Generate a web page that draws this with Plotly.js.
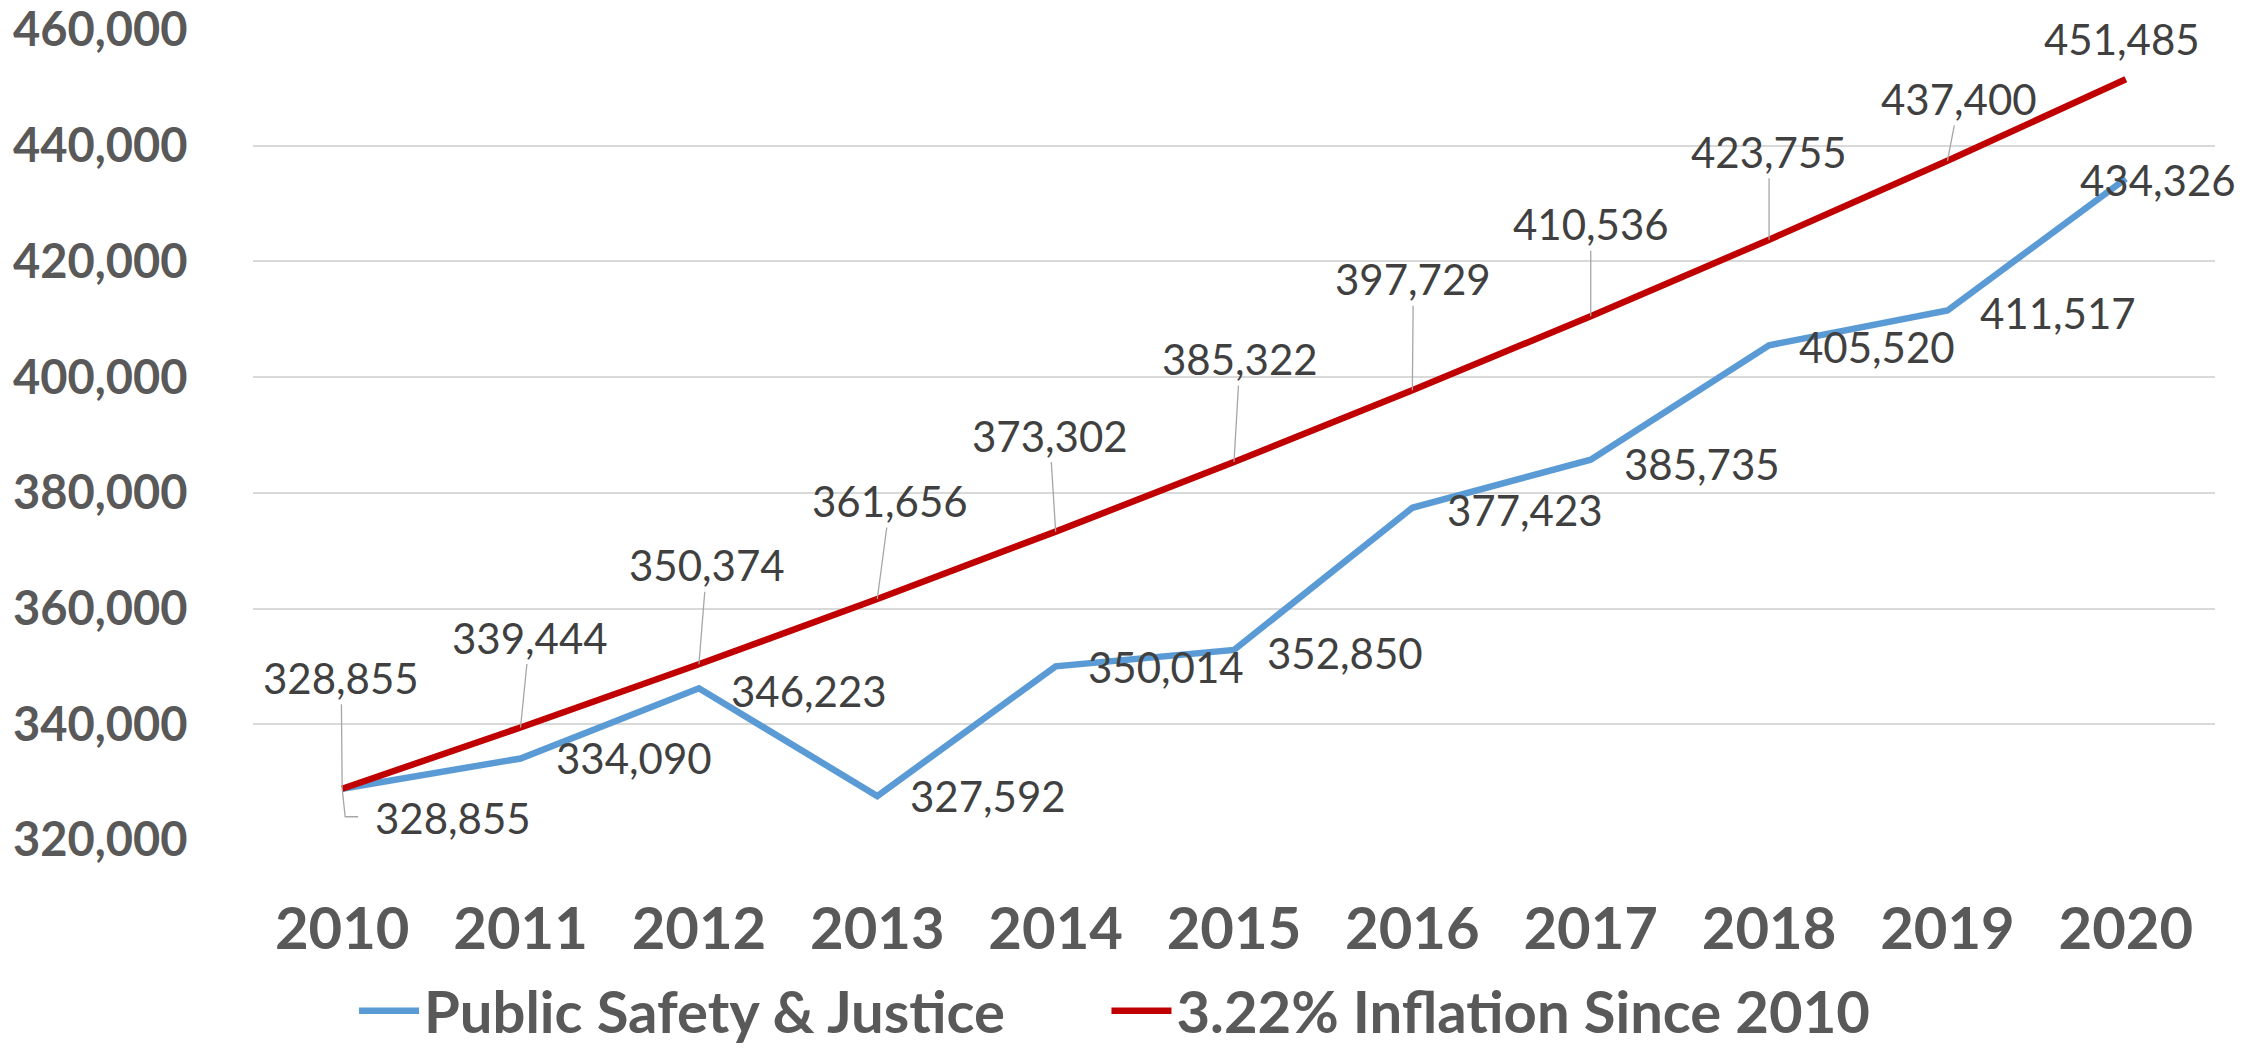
<!DOCTYPE html>
<html>
<head>
<meta charset="utf-8">
<script src="https://cdn.plot.ly/plotly-3.0.1.min.js"></script>
<style>
  html, body { margin: 0; padding: 0; background: #ffffff; }
  #chart { width: 2267px; height: 1050px; }
</style>
</head>
<body>
<div id="chart"></div>
<script>
// ---- data ----
const years = ["2010","2011","2012","2013","2014","2015","2016","2017","2018","2019","2020"];
const publicSafety = [328855, 334090, 346223, 327592, 350014, 352850, 377423, 385735, 405520, 411517, 434326];
const inflation = [328855, 339444, 350374, 361656, 373302, 385322, 397729, 410536, 423755, 437400, 451485];
const seriesNames = ["Public Safety & Justice", "3.22% Inflation Since 2010"];

// ---- label placement (pixel offsets of label centre from its point) ----
const inflOffsets = [[-1,-111],[9,-90],[8,-99],[13,-98],[-6,-96],[6,-103],[1,-111],[0,-92],[0,-88],[12,-62],[-4,-40]];
const inflLeader = [true,true,true,true,true,true,true,true,true,true,false];
const psOffsets = [[111,29],[113,0],[110,3],[111,0],[110,1],[111,3],[113,2],[111,4],[108,2],[111,2],[32,1]];
const psElbowLeader = [true,false,false,false,false,false,false,false,false,false,false];

function fmt(v) { return String(v).replace(/\B(?=(\d{3})+(?!\d))/g, ","); }
function labelFont() { return {family: "Lato, 'Liberation Sans', sans-serif", size: 42, color: "#404040"}; }

const annotations = [];
const shapes = [];
for (let i = 0; i < years.length; i++) {
  annotations.push({
    x: i, y: inflation[i], xref: "x", yref: "y",
    text: fmt(inflation[i]), font: labelFont(),
    showarrow: true, arrowhead: 0, arrowwidth: 1.3,
    arrowcolor: inflLeader[i] ? "#A6A6A6" : "rgba(255,255,255,0)",
    standoff: 0, ax: inflOffsets[i][0], ay: inflOffsets[i][1]
  });
  annotations.push({
    x: i, y: publicSafety[i], xref: "x", yref: "y",
    text: fmt(publicSafety[i]), font: labelFont(), showarrow: false,
    xshift: psOffsets[i][0], yshift: -psOffsets[i][1],
    xanchor: "center", yanchor: "middle"
  });
  if (psElbowLeader[i]) {
    // elbow-shaped leader line (vertical drop, then short horizontal run to the label)
    shapes.push({
      type: "path", xref: "x", yref: "y",
      xsizemode: "pixel", ysizemode: "pixel", xanchor: i, yanchor: publicSafety[i],
      path: "M0,0 L3,-" + (psOffsets[i][1] - 1) + " L16,-" + (psOffsets[i][1] - 1),
      line: {color: "#A6A6A6", width: 1.3}, layer: "above"
    });
  }
}

const traces = [
  {
    x: years, y: publicSafety, name: seriesNames[0], type: "scatter", mode: "lines",
    line: {color: "#5B9BD5", width: 6.5}, hoverinfo: "skip", legend: "legend"
  },
  {
    x: years, y: inflation, name: seriesNames[1], type: "scatter", mode: "lines",
    line: {color: "#C00000", width: 6.5}, hoverinfo: "skip", legend: "legend2"
  }
];

const legendFont = {family: "Lato, 'Liberation Sans', sans-serif", size: 58, color: "#595959", weight: "bold"};

const layout = {
  width: 2267, height: 1050,
  margin: {l: 253, r: 52, t: 30, b: 210, pad: 0},
  paper_bgcolor: "#ffffff", plot_bgcolor: "#ffffff",
  showlegend: true,
  xaxis: {
    type: "category", categoryorder: "array", categoryarray: years,
    range: [-0.5, 10.5], showgrid: false, zeroline: false, showline: false,
    ticks: "outside", ticklen: 38, tickcolor: "rgba(0,0,0,0)",
    tickfont: {family: "Lato, 'Liberation Sans', sans-serif", size: 58, color: "#595959", weight: "bold"}
  },
  yaxis: {
    range: [320000, 460000], dtick: 20000, tick0: 320000, tickformat: ",",
    showgrid: true, gridcolor: "#D9D9D9", gridwidth: 2, zeroline: false, showline: false,
    ticks: "outside", ticklen: 55, tickcolor: "rgba(0,0,0,0)",
    tickfont: {family: "Lato, 'Liberation Sans', sans-serif", size: 47, color: "#595959", weight: "bold"}
  },
  legend: {
    orientation: "h", x: 0.0515, xanchor: "left", yref: "container", y: 0.037, yanchor: "middle",
    font: legendFont, itemwidth: 60, bgcolor: "rgba(0,0,0,0)"
  },
  legend2: {
    orientation: "h", x: 0.435, xanchor: "left", yref: "container", y: 0.037, yanchor: "middle",
    font: legendFont, itemwidth: 60, bgcolor: "rgba(0,0,0,0)"
  },
  shapes: shapes,
  annotations: annotations
};

Plotly.newPlot("chart", traces, layout, {staticPlot: true, displayModeBar: false});
</script>
</body>
</html>
